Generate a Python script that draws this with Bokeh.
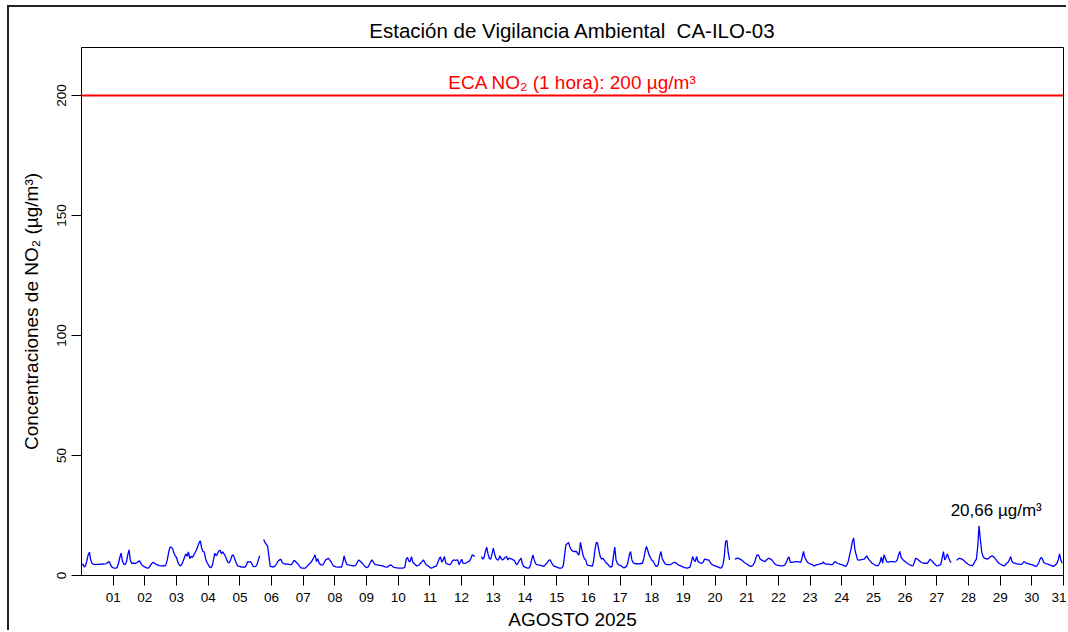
import numpy as np
from bokeh.plotting import figure
from bokeh.models import Range1d, FixedTicker, Span, Label
from bokeh.embed import file_html
from bokeh.resources import INLINE

# Hourly NO2 concentrations (µg/m³), August 2025, one list per day (None = missing)
d01 = [4.5, 4.8, 3.6, 4.0, 6.0, 8.5, 9.7, 6.5, 5.0, 4.7, 4.6, 4.5, 4.6, 4.7, 4.6, 4.7, 4.8, 4.7, 4.8, 5.0, 5.5, 5.8, 4.5, 3.6]
d02 = [3.2, 3.1, 3.1, 3.3, 5.0, 7.5, 9.3, 6.0, 4.7, 4.5, 5.5, 8.5, 10.7, 6.5, 5.0, 5.2, 5.1, 5.0, 5.3, 5.8, 6.1, 5.0, 4.3, 3.8]
d03 = [3.6, 3.3, 3.1, 3.2, 4.0, 4.8, 5.5, 5.3, 4.8, 4.5, 4.3, 4.1, 4.0, 4.0, 4.1, 4.0, 4.5, 6.5, 9.5, 11.8, 11.8, 11.2, 9.5, 8.2]
d04 = [7.5, 5.5, 4.5, 4.0, 4.6, 6.0, 7.5, 9.0, 8.0, 9.8, 7.0, 8.0, 7.5, 8.5, 9.5, 10.5, 12.0, 13.5, 14.5, 11.5, 10.0, 9.8, 7.0, 5.5]
d05 = [4.5, 3.6, 3.2, 4.0, 6.5, 9.3, 8.2, 9.0, 10.2, 10.5, 9.0, 9.8, 9.0, 8.0, 6.5, 5.5, 5.3, 6.5, 8.2, 8.6, 7.0, 5.5, 4.3, 3.8]
d06 = [3.8, 3.5, 3.5, 3.6, 3.5, 4.5, 5.8, 5.6, 5.8, 5.0, 3.8, 3.7, 3.8, 4.5, 6.5, 8.2, None, None, 15.0, 13.8, 13.0, 12.3, 8.0, 3.8]
d07 = [3.7, 3.5, 3.8, 4.2, 5.0, 6.0, 6.5, 6.8, 5.5, 5.0, 4.8, 4.8, 4.7, 4.6, 4.5, 4.5, 5.3, 6.3, 6.0, 5.3, 4.8, 4.0, 3.3, 3.1]
d08 = [3.1, 3.0, 3.3, 3.8, 4.5, 5.0, 5.5, 6.5, 7.5, 8.6, 5.8, 7.0, 5.2, 4.6, 4.3, 4.5, 5.5, 6.5, 6.8, 7.2, 6.5, 5.8, 4.8, 3.9]
d09 = [3.8, 3.6, 3.5, 3.5, 3.6, 3.5, 5.5, 8.2, 6.0, 4.6, 4.4, 4.3, 4.2, 4.1, 4.0, 4.0, 4.5, 5.5, 6.5, 6.0, 5.5, 5.0, 4.2, 3.6]
d10 = [3.3, 3.5, 4.5, 5.5, 6.5, 5.8, 4.8, 4.5, 4.4, 4.3, 4.2, 4.1, 4.0, 3.8, 3.6, 3.5, 3.6, 4.0, 4.5, 4.2, 3.6, 3.4, 3.3, 3.2]
d11 = [3.1, 3.1, 3.1, 3.1, 3.2, 3.5, 6.8, 7.5, 6.0, 5.8, 7.9, 5.5, 5.0, 4.5, 4.0, 4.2, 4.5, 5.2, 5.8, 6.5, 5.5, 4.6, 4.2, 3.8]
d12 = [3.3, 3.1, 3.3, 3.6, 3.8, 4.0, 5.5, 7.0, 7.7, 5.5, 6.5, 7.9, 5.2, 4.8, 4.6, 4.5, 5.0, 6.0, 6.5, 6.3, 6.4, 6.5, 4.5, 5.5]
d13 = [6.8, 5.2, 5.0, 5.2, 5.4, 5.8, 6.1, 7.0, 8.6, 8.3, 7.9, None, None, None, None, 7.9, 6.8, 7.5, 10.0, 11.8, 9.0, 7.0, 6.8, 9.0]
d14 = [11.4, 9.0, 7.2, 6.5, 6.5, 8.2, 7.0, 6.5, 7.0, 7.5, 7.9, 6.5, 7.2, 7.0, 6.8, 6.5, 6.3, 5.0, 4.5, 5.5, 6.5, 7.2, 5.0, 3.8]
d15 = [3.5, 3.3, 3.1, 3.1, 4.0, 6.5, 8.6, 6.5, 5.0, 4.5, 4.4, 4.3, 4.2, 4.0, 3.8, 4.2, 4.8, 5.5, 6.3, 6.5, 5.5, 4.5, 3.8, 3.8]
d16 = [3.5, 3.3, 3.1, 3.1, 3.2, 4.0, 8.5, 12.8, 13.2, 13.8, 12.0, 10.7, 10.2, 10.0, 10.0, 10.0, 9.0, 8.6, 13.8, 11.0, 8.5, 7.0, 6.5, 4.5]
d17 = [4.2, 4.1, 4.0, 3.8, 6.0, 10.7, 13.8, 13.5, 10.5, 7.9, 6.8, 7.2, 6.5, 5.5, 5.1, 4.5, 3.8, 3.5, 3.8, 8.0, 11.8, 6.5, 5.0, 4.5]
d18 = [4.2, 4.0, 3.5, 3.1, 3.5, 3.8, 5.5, 8.5, 10.0, 6.5, 5.3, 5.0, 4.9, 4.9, 4.8, 4.9, 5.0, 5.1, 7.0, 10.0, 12.1, 10.5, 8.6, 7.5]
d19 = [6.5, 6.0, 5.0, 4.0, 3.8, 4.5, 8.0, 10.0, 7.0, 6.0, 5.0, 4.6, 4.5, 4.5, 4.5, 4.8, 5.2, 5.5, 5.4, 5.0, 4.5, 4.2, 4.0, 3.8]
d20 = [3.5, 3.3, 3.2, 3.1, 3.3, 3.5, 5.5, 7.9, 6.5, 5.8, 7.9, 6.0, 5.5, 5.2, 5.1, 5.5, 6.8, 6.7, 6.5, 6.5, 5.8, 5.0, 4.5, 4.2]
d21 = [4.0, 3.8, 3.6, 3.4, 3.1, 3.3, 4.5, 8.0, 14.2, 14.6, 9.5, 6.5, None, None, None, 6.8, 7.0, 7.2, 7.0, 6.8, 6.5, 6.0, 5.5, 5.1]
d22 = [4.8, 4.5, 4.0, 3.8, 4.0, 4.5, 5.5, 7.5, 8.6, 8.5, 7.0, 6.5, 6.2, 6.0, 5.8, 6.5, 7.0, 7.2, 6.8, 6.5, 5.8, 5.0, 4.5, 4.3]
d23 = [4.2, 4.1, 4.0, 4.0, 4.1, 4.5, 5.5, 7.0, 7.7, 5.5, 5.5, 5.6, 5.7, 5.7, 5.8, 5.8, 5.6, 5.5, 7.5, 10.0, 7.5, 6.5, 5.5, 5.1]
d24 = [4.8, 4.6, 4.4, 4.0, 4.2, 4.5, 4.5, 4.8, 4.9, 5.0, 5.6, 5.0, 4.7, 4.7, 4.7, 4.6, 4.5, 4.5, 5.3, 5.8, 5.3, 5.0, 4.8, 4.6]
d25 = [4.5, 4.3, 4.0, 3.8, 4.5, 6.0, 8.6, 11.0, 14.0, 15.6, 10.7, 8.5, 6.5, 6.4, 6.5, 6.6, 6.7, 6.8, 7.5, 8.2, 7.0, 6.3, 5.8, 5.1]
d26 = [4.8, 4.5, 4.2, 4.0, 4.5, 5.5, 7.7, 5.1, 8.6, 7.2, 5.8, 5.6, 5.7, 5.8, 5.8, 5.8, 5.7, 5.8, 6.5, 8.5, 10.0, 7.5, 6.8, 6.2]
d27 = [5.8, 5.3, 5.0, 4.6, 4.3, 4.1, 4.0, 5.5, 7.2, 6.9, 6.5, 6.0, 5.6, 5.3, 5.1, 5.1, 5.1, 5.2, 6.0, 6.8, 6.2, 5.6, 5.0, 4.5]
d28 = [4.0, 4.1, 4.3, 4.5, 7.0, 10.0, 6.5, 7.5, 9.0, 7.3, 6.0, 5.4, None, None, None, 6.3, 6.8, 7.2, 7.0, 6.8, 6.5, 6.0, 5.4, 5.0]
d29 = [4.6, 4.3, 4.2, 4.0, 4.8, 6.0, 6.8, 12.0, 20.66, 15.0, 10.0, 8.0, 7.2, 7.0, 6.8, 7.0, 7.5, 8.0, 8.2, 7.8, 7.2, 6.5, 5.8, 5.1]
d30 = [4.8, 4.5, 4.2, 4.0, 4.5, 5.1, 5.5, 6.5, 7.9, 5.8, 5.3, 5.1, 5.0, 4.8, 4.7, 4.6, 4.6, 5.0, 5.8, 5.4, 5.1, 5.0, 4.8, 4.6]
d31 = [4.5, 4.3, 4.0, 3.8, 4.2, 5.0, 6.5, 7.5, 7.0, 5.5, 5.1, 4.9, 4.7, 4.5, 4.3, 4.1, 3.8, 4.0, 4.5, 5.1, 6.5, 9.0, 6.5, 5.1]

days = [d01, d02, d03, d04, d05, d06, d07, d08, d09, d10, d11, d12, d13, d14, d15, d16,
        d17, d18, d19, d20, d21, d22, d23, d24, d25, d26, d27, d28, d29, d30, d31]
day_labels = ["01", "02", "03", "04", "05", "06", "07", "08", "09", "10", "11", "12", "13", "14", "15", "16",
              "17", "18", "19", "20", "21", "22", "23", "24", "25", "26", "27", "28", "29", "30", "31"]
y_ticks = [0, 50, 100, 150, 200]
ECA_LIMIT = 200
ECA_TEXT = "ECA NO\u2082 (1 hora): 200 \u00b5g/m\u00b3"
TITLE = "Estaci\u00f3n de Vigilancia Ambiental \u00a0CA-ILO-03"
Y_LABEL = "Concentraciones de NO\u2082 (\u00b5g/m\u00b3)"
X_LABEL = "AGOSTO 2025"
Y_MAX = 220

values = np.array([np.nan if v is None else v for d in days for v in d], dtype=float)
hours = np.arange(len(values))
hours_per_day = len(d01)
n_hours = len(values)
tick_hours = [hours_per_day * (i + 1) for i in range(len(day_labels))]

FONT = "Liberation Sans"

p = figure(width=1059, height=625, output_backend="svg", toolbar_location=None,
           x_range=Range1d(0, n_hours), y_range=Range1d(0, Y_MAX),
           min_border_left=72, min_border_right=5, min_border_top=40, min_border_bottom=57)
p.styles = {"margin-left": "7px", "margin-top": "5px",
            "border-top": "2px solid #222", "border-left": "2px solid #222"}

p.title.text = TITLE
p.title.align = "center"
p.title.text_font = FONT
p.title.text_font_size = "20.5px"
p.title.text_font_style = "normal"
p.title.text_color = "black"
p.title.standoff = 11

p.xgrid.visible = False
p.ygrid.visible = False
p.outline_line_color = "black"
p.outline_line_alpha = 1.0
p.outline_line_width = 1
p.background_fill_color = "white"
p.border_fill_color = "white"

for ax in (p.xaxis[0], p.yaxis[0]):
    ax.major_tick_in = 0
    ax.major_tick_out = 10
    ax.minor_tick_in = 0
    ax.minor_tick_out = 0
    ax.major_tick_line_color = "black"
    ax.axis_line_color = "black"
    ax.major_label_text_font = FONT
    ax.major_label_text_font_size = "13.5px"
    ax.major_label_text_color = "black"
    ax.axis_label_text_font = FONT
    ax.axis_label_text_font_size = "19px"
    ax.axis_label_text_font_style = "normal"
    ax.axis_label_text_color = "black"

p.xaxis.ticker = FixedTicker(ticks=tick_hours)
p.xaxis.major_label_overrides = {h: lbl for h, lbl in zip(tick_hours, day_labels)}
p.xaxis.major_label_standoff = 7
p.xaxis.axis_label = X_LABEL
p.xaxis.axis_label_standoff = 4

p.yaxis.ticker = FixedTicker(ticks=y_ticks)
p.yaxis.major_label_orientation = "vertical"
p.yaxis.major_label_standoff = 6
p.yaxis.axis_label = Y_LABEL
p.yaxis.axis_label_standoff = 12

p.add_layout(Span(location=ECA_LIMIT, dimension="width", line_color="#FF0000", line_width=2))
p.add_layout(Label(x=n_hours / 2, y=ECA_LIMIT + 1.0, text=ECA_TEXT, text_align="center",
                   text_baseline="bottom", text_color="#FF0000", text_font=FONT,
                   text_font_size="19px"))

p.line(hours, values, line_color="#0000FF", line_width=1.3)

imax = int(np.nanargmax(values))
vmax = values[imax]
p.add_layout(Label(x=hours[imax] + 13, y=vmax + 6.3,
                   text=f"{vmax:.2f}".replace(".", ",") + " \u00b5g/m\u00b3",
                   text_align="center", text_baseline="middle", text_color="black",
                   text_font=FONT, text_font_size="17px"))

open("out.html", "w").write(file_html(p, INLINE))
